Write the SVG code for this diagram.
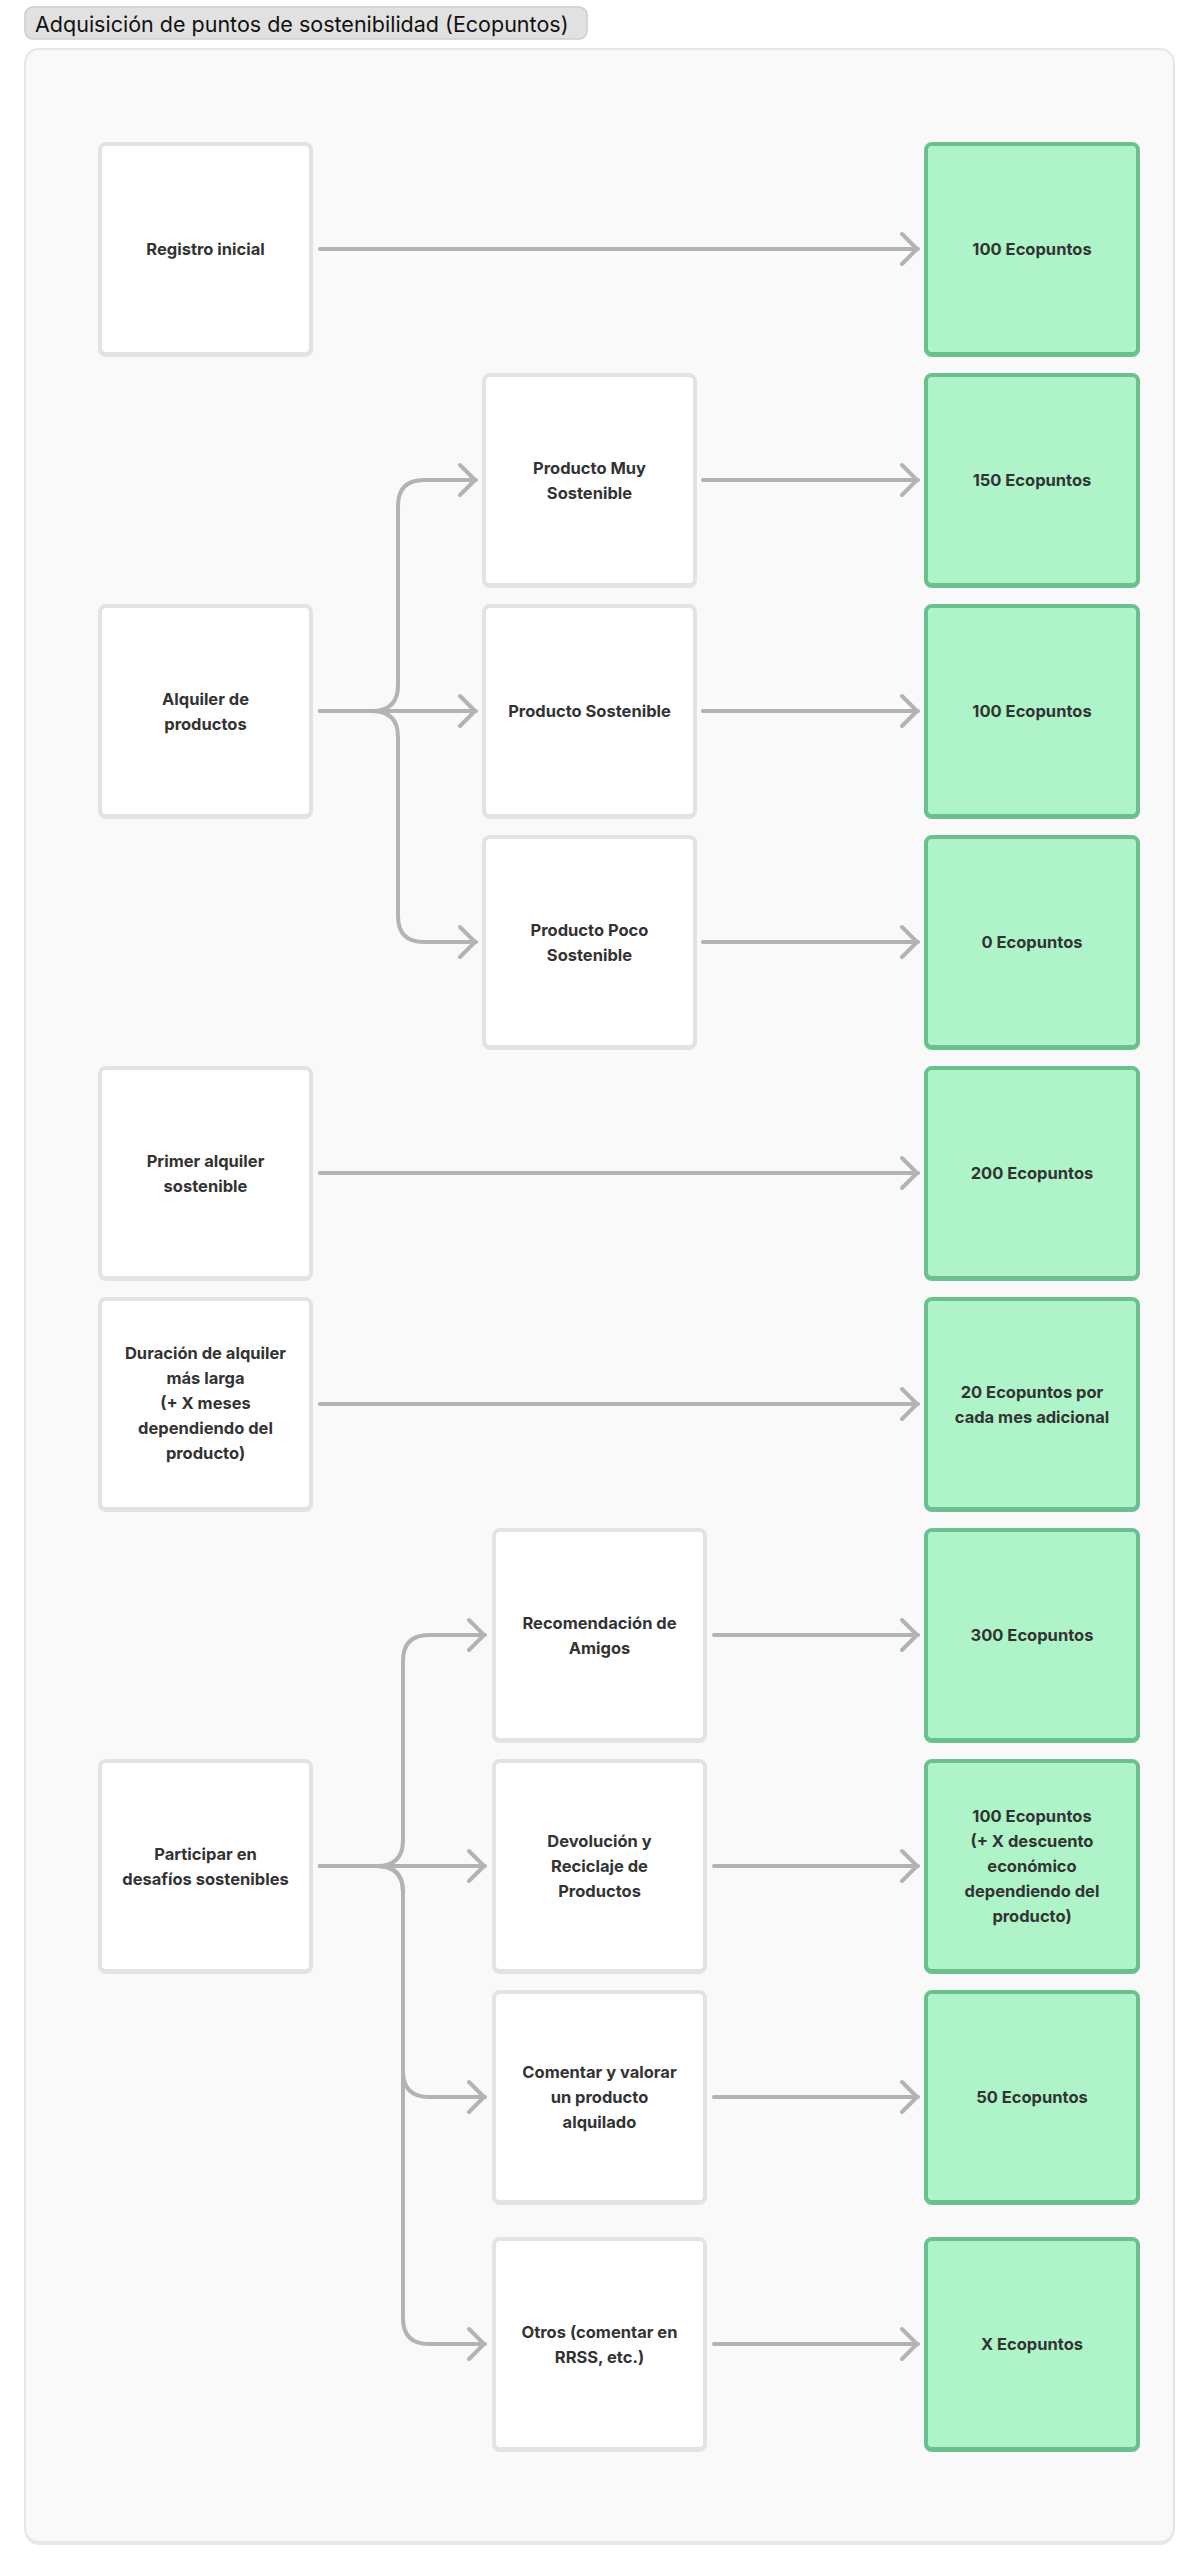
<svg xmlns="http://www.w3.org/2000/svg" width="1200" height="2569" viewBox="0 0 1200 2569">
<defs>
<style>
.n{fill:#ffffff;stroke:#e3e3e3;stroke-width:4}
.ns{fill:#e3e3e3}
.g{fill:#aef4c8;stroke:#6cc08f;stroke-width:4}
.gs{fill:#6cc08f}
.t{font-family:Inter,"Liberation Sans",sans-serif;font-size:16.5px;font-weight:700;fill:#333333;text-anchor:middle;dominant-baseline:central}
.c{fill:none;stroke:#b3b3b3;stroke-width:4;stroke-linecap:round;stroke-linejoin:round}
</style>
<marker id="ah" viewBox="0 0 24 36" refX="21" refY="18" markerWidth="24" markerHeight="36" markerUnits="userSpaceOnUse" orient="auto">
<path d="M5,3 L20,18 L5,33" fill="none" stroke="#b3b3b3" stroke-width="4" stroke-linecap="round" stroke-linejoin="round"/>
</marker>
</defs>
<rect width="1200" height="2569" fill="#ffffff"/>
<g id="title">
<rect x="25" y="7" width="562" height="32" rx="8" fill="#e1e1e1" stroke="#cdcdcd" stroke-width="1.5"/>
<text x="35" y="24" font-family="Inter,'Liberation Sans',sans-serif" font-size="21.5" fill="#111111" dominant-baseline="central">Adquisición de puntos de sostenibilidad (Ecopuntos)</text>
</g>
<g id="container">
<rect x="25" y="52" width="1149" height="2493" rx="14" fill="#e8e8e8"/>
<rect x="25" y="49" width="1149" height="2493" rx="14" fill="#f9f9f9" stroke="#e6e6e6" stroke-width="2"/>
</g>
<g id="connectors">
<path class="c" marker-end="url(#ah)" d="M320,249 H918"/>
<path class="c" marker-end="url(#ah)" d="M320,711 H372 Q398,711 398,685 V506 Q398,480 424,480 H476"/>
<path class="c" marker-end="url(#ah)" d="M320,711 H476"/>
<path class="c" marker-end="url(#ah)" d="M320,711 H372 Q398,711 398,737 V916 Q398,942 424,942 H476"/>
<path class="c" marker-end="url(#ah)" d="M703,480 H918"/>
<path class="c" marker-end="url(#ah)" d="M703,711 H918"/>
<path class="c" marker-end="url(#ah)" d="M703,942 H918"/>
<path class="c" marker-end="url(#ah)" d="M320,1173 H918"/>
<path class="c" marker-end="url(#ah)" d="M320,1404 H918"/>
<path class="c" marker-end="url(#ah)" d="M320,1866 H377 Q403,1866 403,1840 V1661 Q403,1635 429,1635 H485"/>
<path class="c" marker-end="url(#ah)" d="M320,1866 H485"/>
<path class="c" marker-end="url(#ah)" d="M320,1866 H377 Q403,1866 403,1892 V2071 Q403,2097 429,2097 H485"/>
<path class="c" marker-end="url(#ah)" d="M320,1866 H377 Q403,1866 403,1892 V2318 Q403,2344 429,2344 H485"/>
<path class="c" marker-end="url(#ah)" d="M714,1635 H918"/>
<path class="c" marker-end="url(#ah)" d="M714,1866 H918"/>
<path class="c" marker-end="url(#ah)" d="M714,2097 H918"/>
<path class="c" marker-end="url(#ah)" d="M714,2344 H918"/>
</g>
<g id="registro">
<rect class="ns" x="98" y="144" width="215" height="213" rx="8"/>
<rect class="n" x="100" y="144" width="211" height="210" rx="6"/>
<text class="t" x="205.5" y="249">Registro inicial</text>
</g>
<g id="eco100a">
<rect class="gs" x="924" y="144" width="216" height="213" rx="8"/>
<rect class="g" x="926" y="144" width="212" height="210" rx="6"/>
<text class="t" x="1032" y="249">100 Ecopuntos</text>
</g>
<g id="muy">
<rect class="ns" x="482" y="375" width="215" height="213" rx="8"/>
<rect class="n" x="484" y="375" width="211" height="210" rx="6"/>
<text class="t" x="589.5" y="467.5">Producto Muy</text>
<text class="t" x="589.5" y="492.5">Sostenible</text>
</g>
<g id="eco150">
<rect class="gs" x="924" y="375" width="216" height="213" rx="8"/>
<rect class="g" x="926" y="375" width="212" height="210" rx="6"/>
<text class="t" x="1032" y="480">150 Ecopuntos</text>
</g>
<g id="alquiler">
<rect class="ns" x="98" y="606" width="215" height="213" rx="8"/>
<rect class="n" x="100" y="606" width="211" height="210" rx="6"/>
<text class="t" x="205.5" y="698.5">Alquiler de</text>
<text class="t" x="205.5" y="723.5">productos</text>
</g>
<g id="sostenible">
<rect class="ns" x="482" y="606" width="215" height="213" rx="8"/>
<rect class="n" x="484" y="606" width="211" height="210" rx="6"/>
<text class="t" x="589.5" y="711">Producto Sostenible</text>
</g>
<g id="eco100b">
<rect class="gs" x="924" y="606" width="216" height="213" rx="8"/>
<rect class="g" x="926" y="606" width="212" height="210" rx="6"/>
<text class="t" x="1032" y="711">100 Ecopuntos</text>
</g>
<g id="poco">
<rect class="ns" x="482" y="837" width="215" height="213" rx="8"/>
<rect class="n" x="484" y="837" width="211" height="210" rx="6"/>
<text class="t" x="589.5" y="929.5">Producto Poco</text>
<text class="t" x="589.5" y="954.5">Sostenible</text>
</g>
<g id="eco0">
<rect class="gs" x="924" y="837" width="216" height="213" rx="8"/>
<rect class="g" x="926" y="837" width="212" height="210" rx="6"/>
<text class="t" x="1032" y="942">0 Ecopuntos</text>
</g>
<g id="primer">
<rect class="ns" x="98" y="1068" width="215" height="213" rx="8"/>
<rect class="n" x="100" y="1068" width="211" height="210" rx="6"/>
<text class="t" x="205.5" y="1160.5">Primer alquiler</text>
<text class="t" x="205.5" y="1185.5">sostenible</text>
</g>
<g id="eco200">
<rect class="gs" x="924" y="1068" width="216" height="213" rx="8"/>
<rect class="g" x="926" y="1068" width="212" height="210" rx="6"/>
<text class="t" x="1032" y="1173">200 Ecopuntos</text>
</g>
<g id="duracion">
<rect class="ns" x="98" y="1299" width="215" height="213" rx="8"/>
<rect class="n" x="100" y="1299" width="211" height="210" rx="6"/>
<text class="t" x="205.5" y="1353">Duración de alquiler</text>
<text class="t" x="205.5" y="1378">más larga</text>
<text class="t" x="205.5" y="1403">(+ X meses</text>
<text class="t" x="205.5" y="1428">dependiendo del</text>
<text class="t" x="205.5" y="1453">producto)</text>
</g>
<g id="eco20">
<rect class="gs" x="924" y="1299" width="216" height="213" rx="8"/>
<rect class="g" x="926" y="1299" width="212" height="210" rx="6"/>
<text class="t" x="1032" y="1391.5">20 Ecopuntos por</text>
<text class="t" x="1032" y="1416.5">cada mes adicional</text>
</g>
<g id="recomendacion">
<rect class="ns" x="492" y="1530" width="215" height="213" rx="8"/>
<rect class="n" x="494" y="1530" width="211" height="210" rx="6"/>
<text class="t" x="599.5" y="1622.5">Recomendación de</text>
<text class="t" x="599.5" y="1647.5">Amigos</text>
</g>
<g id="eco300">
<rect class="gs" x="924" y="1530" width="216" height="213" rx="8"/>
<rect class="g" x="926" y="1530" width="212" height="210" rx="6"/>
<text class="t" x="1032" y="1635">300 Ecopuntos</text>
</g>
<g id="desafios">
<rect class="ns" x="98" y="1761" width="215" height="213" rx="8"/>
<rect class="n" x="100" y="1761" width="211" height="210" rx="6"/>
<text class="t" x="205.5" y="1853.5">Participar en</text>
<text class="t" x="205.5" y="1878.5">desafíos sostenibles</text>
</g>
<g id="devolucion">
<rect class="ns" x="492" y="1761" width="215" height="213" rx="8"/>
<rect class="n" x="494" y="1761" width="211" height="210" rx="6"/>
<text class="t" x="599.5" y="1841">Devolución y</text>
<text class="t" x="599.5" y="1866">Reciclaje de</text>
<text class="t" x="599.5" y="1891">Productos</text>
</g>
<g id="eco100c">
<rect class="gs" x="924" y="1761" width="216" height="213" rx="8"/>
<rect class="g" x="926" y="1761" width="212" height="210" rx="6"/>
<text class="t" x="1032" y="1816">100 Ecopuntos</text>
<text class="t" x="1032" y="1841">(+ X descuento</text>
<text class="t" x="1032" y="1866">económico</text>
<text class="t" x="1032" y="1891">dependiendo del</text>
<text class="t" x="1032" y="1916">producto)</text>
</g>
<g id="comentar">
<rect class="ns" x="492" y="1992" width="215" height="213" rx="8"/>
<rect class="n" x="494" y="1992" width="211" height="210" rx="6"/>
<text class="t" x="599.5" y="2072">Comentar y valorar</text>
<text class="t" x="599.5" y="2097">un producto</text>
<text class="t" x="599.5" y="2122">alquilado</text>
</g>
<g id="eco50">
<rect class="gs" x="924" y="1992" width="216" height="213" rx="8"/>
<rect class="g" x="926" y="1992" width="212" height="210" rx="6"/>
<text class="t" x="1032" y="2097">50 Ecopuntos</text>
</g>
<g id="otros">
<rect class="ns" x="492" y="2239" width="215" height="213" rx="8"/>
<rect class="n" x="494" y="2239" width="211" height="210" rx="6"/>
<text class="t" x="599.5" y="2331.5">Otros (comentar en</text>
<text class="t" x="599.5" y="2356.5">RRSS, etc.)</text>
</g>
<g id="ecoX">
<rect class="gs" x="924" y="2239" width="216" height="213" rx="8"/>
<rect class="g" x="926" y="2239" width="212" height="210" rx="6"/>
<text class="t" x="1032" y="2344">X Ecopuntos</text>
</g>
</svg>
